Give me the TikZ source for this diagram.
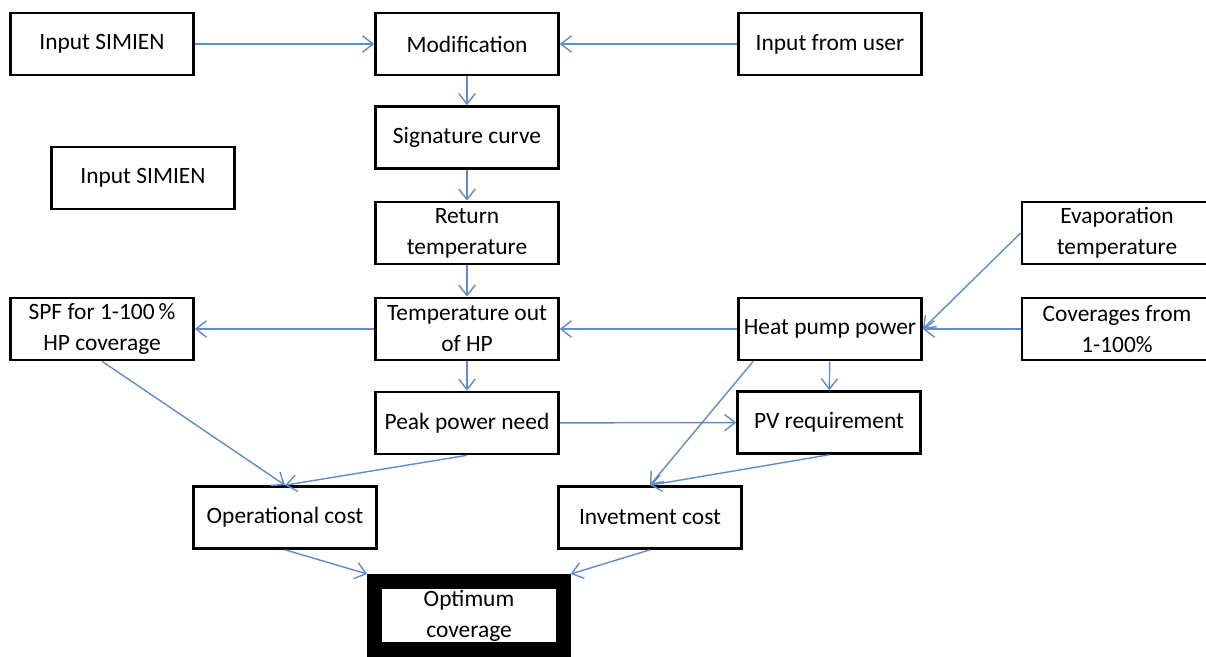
\documentclass[tikz,border=0pt]{standalone}
\usepackage{fontspec}
\setmainfont{Carlito}
\usetikzlibrary{arrows.meta}
\definecolor{arrowblue}{RGB}{96,140,202}

\begin{document}
\begin{tikzpicture}[x=0.03cm,y=-0.03cm,
  box/.style={rectangle,draw,line width=2.2pt,minimum width=5.49cm,minimum height=1.86cm,inner sep=0pt,align=center,font=\fontsize{20}{26.5}\selectfont},
  arr/.style={draw=arrowblue,line width=1.2pt,-{Straight Barb[length=9pt,width=14pt]}}]

    \useasboundingbox (0,0) rectangle (1206,657);

    \node[box] (in1) at (102,44) {Input SIMIEN};
    \node[box] (mod) at (467,44) {Modification};
    \node[box] (user) at (830,44) {Input from user};
    \node[box] (sig) at (467,137.5) {Signature curve};
    \node[box] (in2) at (143,178) {Input SIMIEN};
    \node[box] (ret) at (467,233) {Return\\temperature};
    \node[box,minimum width=6cm] (evap) at (1122,233) {\hspace*{-0.3cm}Evaporation\\\hspace*{-0.3cm}temperature};
    \node[box] (spf) at (102,329) {SPF for 1-100\,\%\\HP coverage};
    \node[box] (tout) at (467,329) {Temperature out\\of HP};
    \node[box] (hpp) at (830,329) {Heat pump power};
    \node[box,minimum width=6cm] (cov) at (1122,329) {\hspace*{-0.3cm}Coverages from\\\hspace*{-0.3cm}1-100\%};
    \node[box] (peak) at (467,423) {Peak power need};
    \node[box] (pv) at (829,422.5) {PV requirement};
    \node[box] (opc) at (285,517.5) {Operational cost};
    \node[box] (inv) at (650,517.5) {Invetment cost};
    \node[box,line width=0.45cm,minimum width=5.655cm,minimum height=2.04cm] (opt) at (469,615.5) {Optimum\\coverage};

    \draw[arr] (in1) -- (mod);
    \draw[arr] (user) -- (mod);
    \draw[arr] (mod) -- (sig);
    \draw[arr] (sig) -- (ret);
    \draw[arr] (ret) -- (tout);
    \draw[arr] (tout) -- (spf);
    \draw[arr] (hpp) -- (tout);
    \draw[arr] (evap.west) -- (hpp.east);
    \draw[arr] (cov) -- (hpp);
    \draw[arr] (tout) -- (peak);
    \draw[arr] (hpp) -- (pv);
    \draw[arr] (peak) -- (pv);
    \draw[arr] ([xshift=0.48cm]hpp.south west) -- (inv.north);
    \draw[arr] (pv.south) -- (inv.north);
    \draw[arr] (spf.south) -- (opc.north);
    \draw[arr] (peak.south) -- (opc.north);
    \draw[arr] (opc.south) -- (opt.north west);
    \draw[arr] (inv.south) -- (opt.north east);
\end{tikzpicture}
\end{document}
